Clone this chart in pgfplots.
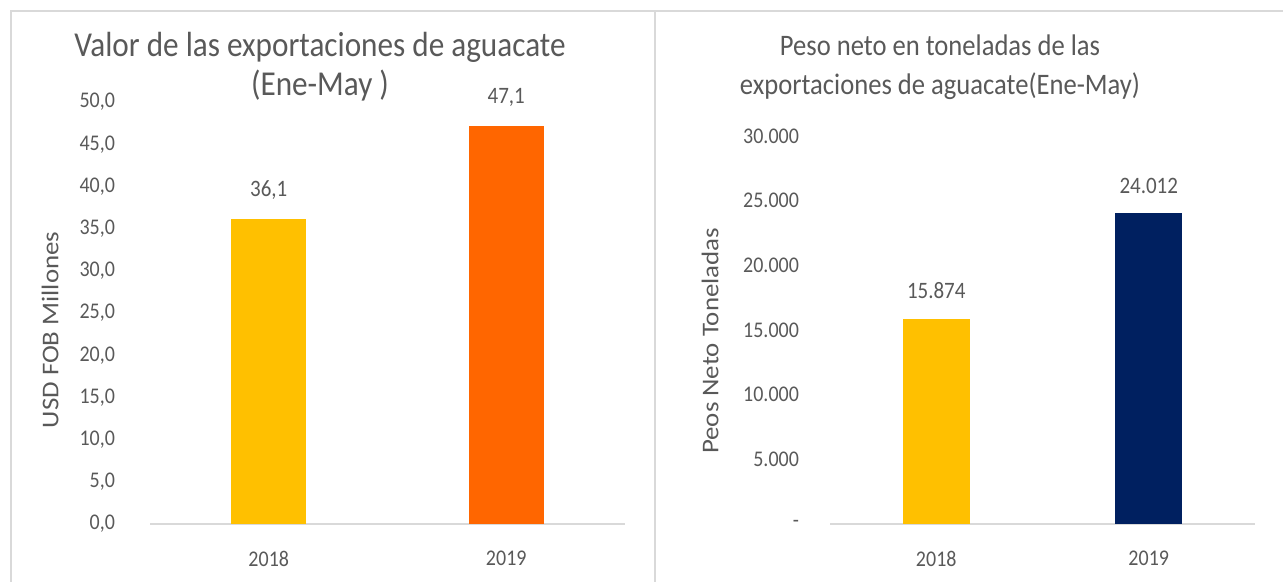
\documentclass[border=0pt]{standalone}
\usepackage{pgfplots}
\pgfplotsset{compat=1.18}
\usepackage{fontspec}
\setmainfont{Carlito}
\definecolor{txt}{HTML}{595959}
\definecolor{brd}{HTML}{D9D9D9}
\definecolor{axl}{HTML}{D9D9D9}
\definecolor{cyel}{HTML}{FFC000}
\definecolor{corg}{HTML}{FF6600}
\definecolor{cnav}{HTML}{002060}
\begin{document}
\begin{tikzpicture}
\path[use as bounding box] (0,0) rectangle (641.5pt,291pt);
\draw[brd, line width=1pt] (5.5pt,0) -- (5.5pt,285.5pt) -- (641.5pt,285.5pt);
\draw[brd, line width=1pt] (327.5pt,0) -- (327.5pt,285.5pt);
\pgfplotsset{
  mystyle/.style={
    scale only axis,
    anchor=south west,
    ybar, bar shift=0pt,
    xmin=-0.5, xmax=1.5, ymin=0,
    xtick={0,1}, xticklabels={2018,2019},
    axis x line*=bottom, axis y line*=left,
    x axis line style={draw=axl, line width=1pt, -},
    y axis line style={draw=none},
    major tick length=0pt,
    tick label style={font=\fontsize{10}{12}\selectfont, text=txt, yscale=1.12},
    /pgf/number format/assume math mode=true,
    xticklabel style={yshift=-8.5pt},
    yticklabel style={xshift=-14pt},
    ylabel style={font=\fontsize{12}{14}\selectfont, text=txt, anchor=center},
    nodes near coords,
    every node near coord/.append style={font=\fontsize{10.5}{12}\selectfont, text=txt, yshift=6pt, yscale=1.12},
    clip=false,
  }
}
\begin{axis}[mystyle,
  at={(75pt,29pt)}, width=237.5pt, height=211pt,
  ymax=50, ytick={0,5,...,50},
  bar width=37.5pt,
  yticklabel={\pgfmathprintnumber[fixed,fixed zerofill,precision=1,use comma]{\tick}},
  nodes near coords={\pgfmathprintnumber[fixed,fixed zerofill,precision=1,use comma]{\pgfplotspointmeta}},
  ylabel={\scalebox{1.12}[1]{USD FOB Millones}},
  ylabel style={at={(axis description cs:-0.21,0.46)}},
]
\addplot[fill=cyel, draw=none] coordinates {(0,36.1)};
\addplot[fill=corg, draw=none] coordinates {(1,47.1)};
\end{axis}
\begin{axis}[mystyle,
  at={(415pt,29pt)}, width=212.5pt, height=194pt,
  ymax=30000, ytick={0,5000,...,30000}, scaled y ticks=false,
  yticklabels={-,5.000,10.000,15.000,20.000,25.000,30.000},
  yticklabel style={xshift=2pt},
  bar width=33.5pt,
  nodes near coords={\pgfmathprintnumber[fixed,precision=0,1000 sep={.}]{\pgfplotspointmeta}},
  ylabel={\scalebox{1.12}[1]{Peos Neto Toneladas}},
  ylabel style={at={(axis description cs:-0.282,0.472)}},
]
\addplot[fill=cyel, draw=none] coordinates {(0,15874)};
\addplot[fill=cnav, draw=none] coordinates {(1,24012)};
\end{axis}
\node[text=txt, font=\fontsize{15.6}{17}\selectfont, align=center, yscale=1.12] at (160pt,257.5pt) {Valor de las exportaciones de aguacate\\[0.4pt](Ene-May )};
\node[text=txt, font=\fontsize{13.3}{17}\selectfont, align=center, yscale=1.12] at (470pt,257.5pt) {Peso neto en toneladas de las\\[0.4pt]exportaciones de aguacate(Ene-May)};
\end{tikzpicture}
\end{document}
